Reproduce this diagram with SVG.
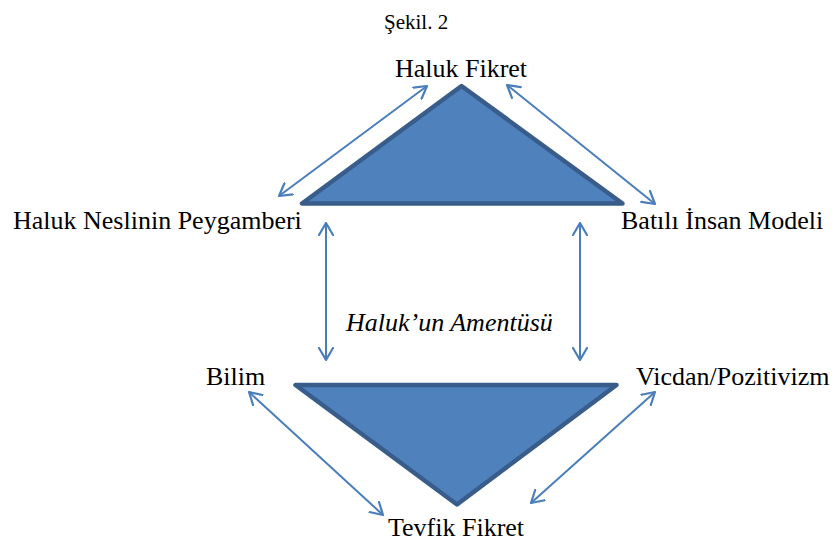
<svg xmlns="http://www.w3.org/2000/svg" width="834" height="548" viewBox="0 0 834 548">
<defs>
<marker id="ah" viewBox="0 0 14 16" refX="13" refY="8" markerWidth="14" markerHeight="16" markerUnits="userSpaceOnUse" orient="auto-start-reverse">
<path d="M1,1 L13,8 L1,15" fill="none" stroke="#4a7ebb" stroke-width="2.2" stroke-linecap="round" stroke-linejoin="round"/>
</marker>
<style>
text{font-family:'Liberation Serif','Times New Roman',serif;font-size:26px;fill:#000}
.tri{fill:#4f81bd;stroke:#385d8a;stroke-width:4.5;stroke-linejoin:round}
.c{stroke:#4a7ebb;stroke-width:2;fill:none;marker-start:url(#ah);marker-end:url(#ah)}
</style>
</defs>
<rect width="834" height="548" fill="#fff"/>
<text x="384" y="29" style="font-size:21px">Şekil. 2</text>
<g id="top-triangle"><polygon class="tri" points="461.5,86 302,203.5 622.5,203.5"/></g>
<g id="bottom-triangle"><polygon class="tri" points="295.5,385 616.5,385 457,504.5"/></g>
<g id="haluk-fikret"><text x="461" y="77" text-anchor="middle">Haluk Fikret</text></g>
<g id="haluk-neslinin"><text x="13" y="229">Haluk Neslinin Peygamberi</text></g>
<g id="batili"><text x="621" y="229">Batılı İnsan Modeli</text></g>
<g id="amentusu"><text x="346" y="331" font-style="italic">Haluk’un Amentüsü</text></g>
<g id="bilim"><text x="206" y="385">Bilim</text></g>
<g id="vicdan"><text x="636" y="385">Vicdan/Pozitivizm</text></g>
<g id="tevfik-fikret"><text x="456" y="536" text-anchor="middle">Tevfik Fikret</text></g>
<g id="connectors">
<line class="c" x1="279" y1="196" x2="427" y2="86"/>
<line class="c" x1="507" y1="85" x2="655" y2="204"/>
<line class="c" x1="326" y1="223" x2="326" y2="360"/>
<line class="c" x1="580" y1="223" x2="580" y2="360"/>
<line class="c" x1="249" y1="392" x2="383" y2="515"/>
<line class="c" x1="655" y1="392" x2="531" y2="503"/>
</g>
</svg>
